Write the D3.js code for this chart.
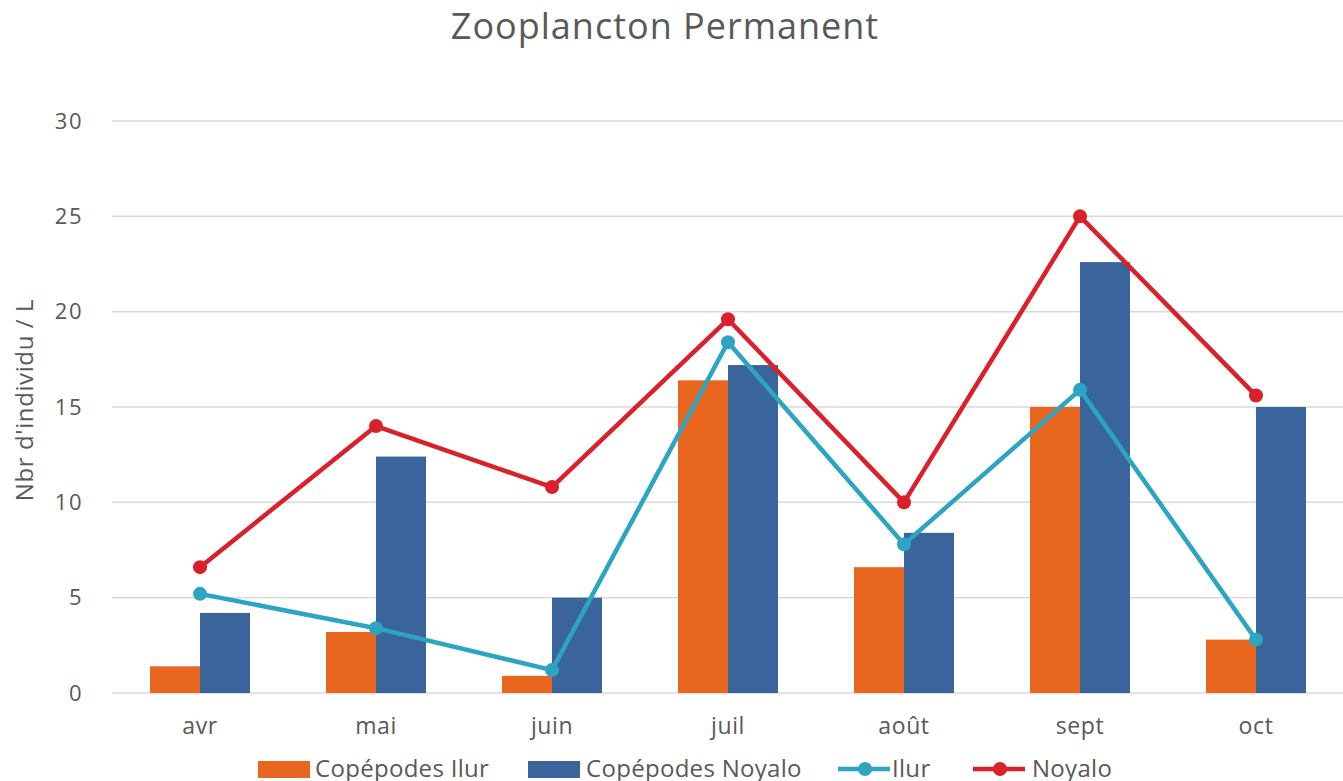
<!DOCTYPE html>
<html>
<head>
<meta charset="utf-8">
<script src="https://cdn.jsdelivr.net/npm/d3@7"></script>
<style>
  html, body { margin: 0; padding: 0; background: #fff; }
  svg text { font-family: "Open Sans", "Noto Sans", sans-serif; fill: #595959; }
</style>
</head>
<body>
<svg id="chart" width="1343" height="781"></svg>
<script>
// Monthly counts (individuals per litre)
const months = ["avr", "mai", "juin", "juil", "août", "sept", "oct"];
const copepodesIlur   = [1.4, 3.2, 0.9, 16.4, 6.6, 15.0, 2.8];
const copepodesNoyalo = [4.2, 12.4, 5.0, 17.2, 8.4, 22.6, 15.0];
const ilur   = [5.2, 3.4, 1.2, 18.4, 7.8, 15.9, 2.8];
const noyalo = [6.6, 14.0, 10.8, 19.6, 10.0, 25.0, 15.6];
const yTicks = [0, 5, 10, 15, 20, 25, 30];

const barSeries = [
  { name: "Copépodes Ilur", values: copepodesIlur, color: "#E9661E" },
  { name: "Copépodes Noyalo", values: copepodesNoyalo, color: "#39649C" }
];
const lineSeries = [
  { name: "Ilur", values: ilur, color: "#2DA4C2" },
  { name: "Noyalo", values: noyalo, color: "#D9202B" }
];

const svg = d3.select("#chart");
const plotLeft = 112, plotRight = 1344, plotTop = 121, plotBottom = 693;

const x = d3.scaleBand().domain(months).range([plotLeft, plotRight]).padding(0);
const y = d3.scaleLinear().domain([0, 30]).range([plotBottom, plotTop]);
const groupW = 100;
const x1 = d3.scaleBand().domain(barSeries.map(s => s.name)).range([0, groupW]).padding(0);

// Title
svg.append("text")
  .attr("x", 665).attr("y", 39)
  .attr("text-anchor", "middle")
  .style("font-size", "36px")
  .style("letter-spacing", "1px")
  .text("Zooplancton Permanent");

// Gridlines
svg.append("g").selectAll("line").data(yTicks).join("line")
  .attr("x1", plotLeft).attr("x2", 1343)
  .attr("y1", d => y(d)).attr("y2", d => y(d))
  .attr("stroke", "#d9d9d9").attr("stroke-width", 1.5);

// Y axis labels
const yAxis = d3.axisLeft(y).tickValues(yTicks).tickSize(0).tickPadding(0);
const gy = svg.append("g").attr("transform", `translate(${plotLeft - 29},0)`).call(yAxis);
gy.select(".domain").remove();
gy.selectAll("text")
  .attr("fill", "#595959")
  .style("font-size", "22px")
  .style("letter-spacing", "1.5px")
  .style("font-family", "\"Open Sans\", sans-serif");

// Y axis title
svg.append("text")
  .attr("transform", "translate(33,400) rotate(-90)")
  .attr("text-anchor", "middle")
  .style("font-size", "24px")
  .style("letter-spacing", "0.6px")
  .text("Nbr d'individu / L");

// X axis labels
const xAxis = d3.axisBottom(x).tickSize(0).tickPadding(0);
const gx = svg.append("g").attr("transform", `translate(0,${plotBottom + 25})`).call(xAxis);
gx.select(".domain").remove();
gx.selectAll("text")
  .attr("fill", "#595959")
  .style("font-size", "23px")
  .style("letter-spacing", "0.6px")
  .style("font-family", "\"Open Sans\", sans-serif");

// Bars
const groups = svg.append("g").selectAll("g").data(months).join("g")
  .attr("transform", d => `translate(${x(d) + x.bandwidth() / 2 - groupW / 2},0)`);
groups.selectAll("rect")
  .data((m, i) => barSeries.map(s => ({ s, v: s.values[i] })))
  .join("rect")
  .attr("x", d => x1(d.s.name))
  .attr("width", x1.bandwidth())
  .attr("y", d => y(d.v))
  .attr("height", d => y(0) - y(d.v))
  .attr("fill", d => d.s.color);

// Lines with markers
const line = d3.line()
  .x((d, i) => x(months[i]) + x.bandwidth() / 2)
  .y(d => y(d));
lineSeries.forEach(s => {
  svg.append("path")
    .datum(s.values)
    .attr("d", line)
    .attr("fill", "none")
    .attr("stroke", s.color)
    .attr("stroke-width", 4.5)
    .attr("stroke-linejoin", "round");
  svg.append("g").selectAll("circle").data(s.values).join("circle")
    .attr("cx", (d, i) => x(months[i]) + x.bandwidth() / 2)
    .attr("cy", d => y(d))
    .attr("r", 7)
    .attr("fill", s.color);
});

// Legend
const legend = svg.append("g").attr("transform", "translate(0,769)");
const legendItems = [
  { type: "bar", s: barSeries[0], x: 258, tx: 315 },
  { type: "bar", s: barSeries[1], x: 528, tx: 586 },
  { type: "line", s: lineSeries[0], x: 838, tx: 892 },
  { type: "line", s: lineSeries[1], x: 973, tx: 1032 }
];
legendItems.forEach(it => {
  if (it.type === "bar") {
    legend.append("rect").attr("x", it.x).attr("y", -8).attr("width", 52).attr("height", 17)
      .attr("fill", it.s.color);
  } else {
    legend.append("line").attr("x1", it.x).attr("x2", it.x + 52).attr("y1", 0).attr("y2", 0)
      .attr("stroke", it.s.color).attr("stroke-width", 4.5);
    legend.append("circle").attr("cx", it.x + 27).attr("cy", 0).attr("r", 7).attr("fill", it.s.color);
  }
  legend.append("text").attr("x", it.tx).attr("y", 0).attr("dy", "0.35em")
    .style("font-size", "24px")
    .style("letter-spacing", "0.3px")
    .text(it.s.name);
});
</script>
</body>
</html>
